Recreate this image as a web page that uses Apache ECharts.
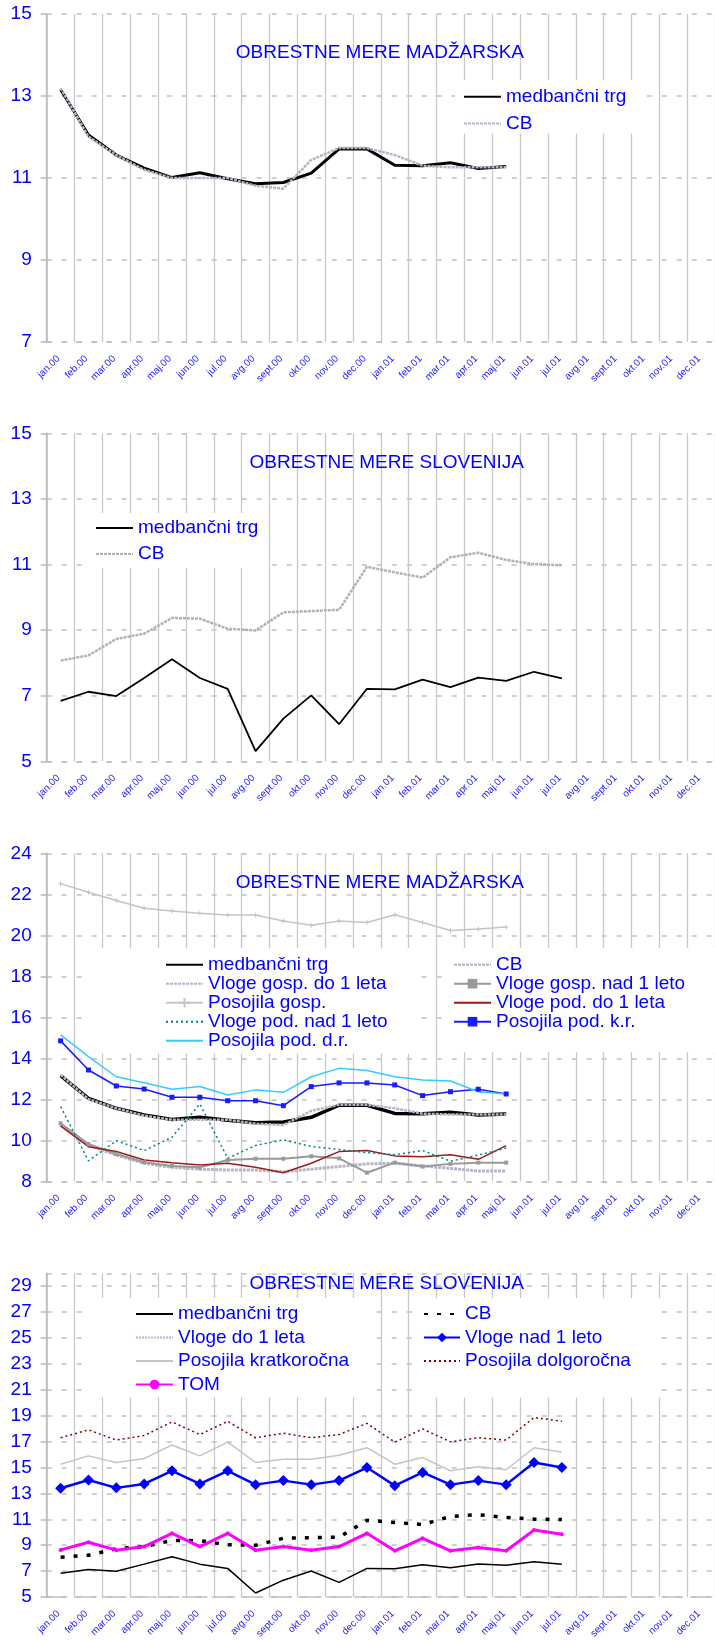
<!DOCTYPE html>
<html>
<head>
<meta charset="utf-8">
<script src="https://cdn.jsdelivr.net/npm/echarts@6/dist/echarts.min.js"></script>
<style>
html,body{margin:0;padding:0;background:#fff;}
.p{position:absolute;left:0;width:715px;}
</style>
</head>
<body>
<div id="c1" class="p" style="top:0;height:410px"></div>
<div id="c2" class="p" style="top:410px;height:420px"></div>
<div id="c3" class="p" style="top:830px;height:420px"></div>
<div id="c4" class="p" style="top:1250px;height:391px"></div>
<script>
// ---------- DATA ----------
const categories = ['jan.00','feb.00','mar.00','apr.00','maj.00','jun.00','jul.00','avg.00','sept.00','okt.00','nov.00','dec.00','jan.01','feb.01','mar.01','apr.01','maj.01','jun.01','jul.01','avg.01','sept.01','okt.01','nov.01','dec.01'];

// Madžarska (jan.00 - maj.01)
const huMedbancni = [13.16, 12.05, 11.56, 11.24, 11.01, 11.13, 10.98, 10.86, 10.89, 11.12, 11.71, 11.71, 11.31, 11.30, 11.37, 11.23, 11.28];
const huCB        = [13.19, 12.01, 11.56, 11.20, 11.00, 11.00, 11.00, 10.81, 10.74, 11.44, 11.73, 11.73, 11.56, 11.30, 11.26, 11.26, 11.26];
const huVlogeGospDo1  = [10.75, 9.77, 9.28, 8.88, 8.68, 8.59, 8.55, 8.55, 8.47, 8.59, 8.72, 8.85, 8.88, 8.75, 8.63, 8.50, 8.50];
const huVlogeGospNad1 = [10.83, 9.82, 9.33, 8.93, 8.75, 8.68, 9.04, 9.10, 9.10, 9.22, 9.12, 8.42, 8.91, 8.72, 8.85, 8.91, 8.91];
const huPosojilaGosp  = [22.52, 22.10, 21.70, 21.32, 21.19, 21.07, 20.99, 20.99, 20.70, 20.49, 20.70, 20.62, 21.00, 20.62, 20.23, 20.31, 20.41];
const huVlogePodDo1   = [10.70, 9.69, 9.45, 9.04, 8.91, 8.80, 8.88, 8.68, 8.42, 8.88, 9.45, 9.50, 9.24, 9.20, 9.29, 9.07, 9.74];
const huVlogePodNad1  = [11.64, 9.00, 9.98, 9.50, 10.15, 11.77, 9.12, 9.75, 10.02, 9.70, 9.55, 9.40, 9.30, 9.50, 8.98, 9.28, 9.62];
const huPosojilaPodKR = [14.85, 13.43, 12.65, 12.50, 12.10, 12.10, 11.93, 11.93, 11.69, 12.62, 12.80, 12.80, 12.70, 12.18, 12.37, 12.49, 12.26];
const huPosojilaPodDR = [15.14, 14.08, 13.10, 12.81, 12.49, 12.62, 12.21, 12.46, 12.34, 13.10, 13.51, 13.40, 13.10, 12.94, 12.89, 12.37, 12.26];

// Slovenija (jan.00 - jul.01)
const siMedbancni = [6.84, 7.12, 6.99, 7.54, 8.11, 7.54, 7.21, 5.31, 6.30, 7.01, 6.13, 7.21, 7.19, 7.49, 7.26, 7.55, 7.45, 7.73, 7.53];
const siCB        = [8.07, 8.23, 8.73, 8.89, 9.37, 9.35, 9.04, 8.99, 9.54, 9.58, 9.62, 10.93, 10.76, 10.60, 11.22, 11.36, 11.14, 11.01, 10.98];
const siVlogeDo1  = [];
const siVlogeNad1 = [13.40, 14.04, 13.43, 13.73, 14.75, 13.73, 14.75, 13.68, 13.99, 13.68, 13.99, 15.00, 13.60, 14.62, 13.68, 13.99, 13.68, 15.39, 15.00];
const siPosojilaKratko = [15.26, 15.90, 15.39, 15.69, 16.74, 15.90, 16.96, 15.39, 15.64, 15.64, 15.95, 16.53, 15.26, 15.77, 14.75, 15.06, 14.83, 16.53, 16.20];
const siPosojilaDolgo  = [17.30, 17.91, 17.12, 17.47, 18.52, 17.55, 18.57, 17.30, 17.65, 17.30, 17.55, 18.41, 16.96, 17.98, 16.99, 17.30, 17.12, 18.87, 18.57];
const siTOM = [8.64, 9.23, 8.62, 8.90, 9.92, 8.90, 9.92, 8.62, 8.90, 8.62, 8.90, 9.92, 8.57, 9.53, 8.57, 8.82, 8.57, 10.17, 9.84];

// ---------- STYLE HELPERS ----------
const FONT = "'Liberation Sans', Arial, sans-serif";
const BLUE = '#0000ff';
const PLUS = 'path://M4,0H6V4H10V6H6V10H4V6H0V4H4Z';

function line(name, data, color, width, type, symbol, symbolSize, z) {
  return {
    type: 'line', name: name, data: data,
    symbol: symbol || 'none', symbolSize: symbolSize || 0, showSymbol: !!symbol,
    lineStyle: { color: color, width: width, type: type || 'solid' },
    itemStyle: { color: color },
    emphasis: { disabled: true }, silent: true, z: z || 2, animation: false
  };
}

// names: array of [name, hasMarker]
function legend(names, left, top, pad, gap, lh, iw) {
  return {
    data: names.map(function (n) {
      return n[1] ? { name: n[0] } : { name: n[0], itemStyle: { opacity: 0 } };
    }),
    orient: 'vertical', left: left, top: top, padding: pad,
    itemGap: gap, itemWidth: iw || 37, itemHeight: 12,
    backgroundColor: '#ffffff', selectedMode: false,
    textStyle: { fontSize: 19, color: BLUE, fontFamily: FONT, lineHeight: lh }
  };
}

function baseOption(cfg) {
  return {
    animation: false,
    backgroundColor: '#ffffff',
    title: {
      text: cfg.title, right: 191, top: cfg.titleTop, padding: 0,
      textStyle: { fontSize: 19, fontWeight: 'normal', color: BLUE, fontFamily: FONT }
    },
    legend: cfg.legend,
    grid: { left: 46.7, top: cfg.gridTop, width: cfg.catW * 24, height: 328, containLabel: false },
    xAxis: {
      type: 'category', data: categories, boundaryGap: true,
      axisLine: { show: true, lineStyle: { color: '#c0c0c0', width: 1.5, type: cfg.xLineType || [5, 10] } },
      axisTick: { show: false },
      splitLine: { show: true, interval: 0, lineStyle: { color: '#c8c8c8', width: 1.3 } },
      axisLabel: { interval: 0, rotate: 45, fontSize: 10, color: '#1a1aff', fontFamily: FONT, margin: 13, padding: [0, 3, 0, 0] }
    },
    yAxis: {
      type: 'value', min: cfg.min, max: cfg.max, interval: 2,
      axisLine: { show: true, lineStyle: { color: '#b8b8b8', width: 1.5 } },
      axisTick: { show: true, inside: false, length: 6, lineStyle: { color: '#b8b8b8', width: 1.5 } },
      splitLine: { show: true, lineStyle: { color: '#c0c0c0', width: 1.5, type: [5, 10] } },
      axisLabel: { fontSize: 19, color: BLUE, fontFamily: FONT, margin: 15, showMaxLabel: cfg.showMax !== false }
    },
    series: cfg.series
  };
}

// ---------- PANEL 1 ----------
echarts.init(document.getElementById('c1')).setOption(baseOption({
  title: 'OBRESTNE MERE MADŽARSKA', titleTop: 43, gridTop: 14, catW: 27.9, min: 7, max: 15,
  legend: [legend([['medbančni trg'], ['CB']], 455, 80, [6.7, 18, 0, 8], 6.7, 20)],
  series: [
    line('medbančni trg', huMedbancni, '#000000', 3),
    line('CB', huCB, '#b4b4c4', 2.5, [3, 1])
  ]
}));

// ---------- PANEL 2 ----------
echarts.init(document.getElementById('c2')).setOption(baseOption({
  title: 'OBRESTNE MERE SLOVENIJA', titleTop: 43, gridTop: 23.3, catW: 28.03, min: 5, max: 15,
  legend: [legend([['medbančni trg'], ['CB']], 85, 103, [5, 6, 4, 10], 6, 20)],
  series: [
    line('medbančni trg', siMedbancni, '#000000', 1.8),
    line('CB', siCB, '#b0b0b8', 2.5, [3, 1])
  ]
}));

// ---------- PANEL 3 ----------
echarts.init(document.getElementById('c3')).setOption(baseOption({
  title: 'OBRESTNE MERE MADŽARSKA', titleTop: 43, gridTop: 23.3, catW: 28.03, min: 8, max: 24,
  legend: [
    legend([['medbančni trg'], ['Vloge gosp. do 1 leta'], ['Posojila gosp.', 1], ['Vloge pod. nad 1 leto'], ['Posojila pod. d.r.']], 90, 118, [7.2, 30, 3.5, 75], 0, 17.6),
    legend([['CB'], ['Vloge gosp. nad 1 leto', 1], ['Vloge pod. do 1 leta'], ['Posojila pod. k.r.', 1]], 445, 118, [7.2, 30, 21, 8], 0, 17.6)
  ],
  series: [
    line('medbančni trg', huMedbancni, '#000000', 3.5),
    line('CB', huCB, '#b4b4c4', 2.5, [3, 1]),
    line('Vloge gosp. do 1 leta', huVlogeGospDo1, '#b4b4c8', 3, [3, 1]),
    line('Vloge gosp. nad 1 leto', huVlogeGospNad1, '#999999', 2, 'solid', 'rect', 4),
    line('Posojila gosp.', huPosojilaGosp, '#c4c4c4', 1.5, 'solid', PLUS, 5),
    line('Vloge pod. do 1 leta', huVlogePodDo1, '#9b1b1b', 1.5),
    line('Vloge pod. nad 1 leto', huVlogePodNad1, '#008080', 1.5, [2, 3]),
    line('Posojila pod. k.r.', huPosojilaPodKR, '#1a1aff', 1.5, 'solid', 'rect', 5),
    line('Posojila pod. d.r.', huPosojilaPodDR, '#33ccff', 1.5)
  ]
}));

// ---------- PANEL 4 ----------
echarts.init(document.getElementById('c4')).setOption(baseOption({
  title: 'OBRESTNE MERE SLOVENIJA', titleTop: 24, gridTop: 23.3, catW: 28.03, min: 5, max: 30, showMax: false,
  xLineType: [20, 8],
  legend: [
    legend([['medbančni trg'], ['Vloge do 1 leta'], ['Posojila kratkoročna'], ['TOM', 1]], 90, 48, [6.5, 20, 3, 45], 4.5, 19),
    legend([['CB'], ['Vloge nad 1 leto', 1], ['Posojila dolgoročna']], 415, 48, [6.5, 30, 27, 8], 4.5, 19, 36)
  ],
  series: [
    line('medbančni trg', siMedbancni, '#000000', 1.5),
    line('CB', siCB, '#000000', 3.5, [4, 9]),
    line('Vloge do 1 leta', siVlogeDo1, '#b4b4e0', 2.5, [2, 1]),
    line('Vloge nad 1 leto', siVlogeNad1, '#0000ff', 2.5, 'solid', 'diamond', 11),
    line('Posojila kratkoročna', siPosojilaKratko, '#c4c4c4', 1.5),
    line('Posojila dolgoročna', siPosojilaDolgo, '#800000', 1.5, [2, 3]),
    line('TOM', siTOM, '#ff00ff', 3, 'solid', 'circle', 4)
  ]
}));
</script>
</body>
</html>
